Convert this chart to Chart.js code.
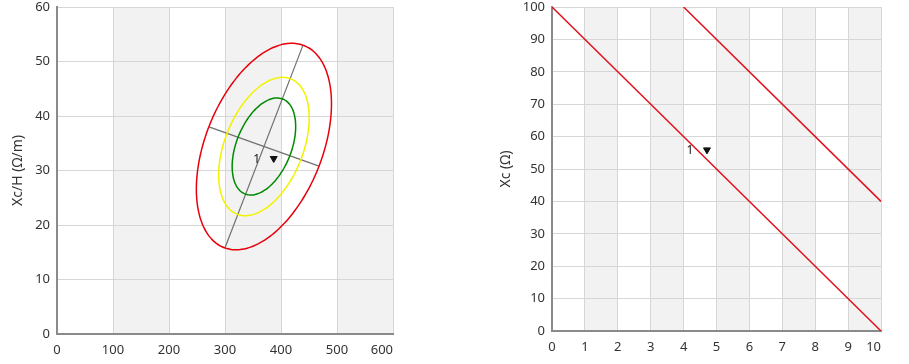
<!DOCTYPE html>
<html>
<head>
<meta charset="utf-8">
<script src="https://cdn.jsdelivr.net/npm/chart.js@4"></script>
<style>
  body { margin:0; background:#fff; width:909px; height:364px; overflow:hidden; position:relative; }
  .box { position:absolute; top:0; height:364px; }
</style>
</head>
<body>
<div class="box" style="left:0;width:420px"><canvas id="chartL"></canvas></div>
<div class="box" style="left:490px;width:419px"><canvas id="chartR"></canvas></div>
<script>
// left chart: Xc/H ellipses
var ellipseCenter = [369.5, 34.4];
var majorEnds = [[299.5, 15.7], [439.3, 53.0]];
var minorEnds = [[271.4, 38.0], [467.9, 30.8]];
var ellipseScales = [1, 0.67, 0.47];
var ellipseColors = ['#e8000b', '#f2f200', '#008a00'];
var pointL = [387, 32.2];
var bandsL = [[100, 200], [300, 400], [500, 600]];

// right chart: Xc lines
var line1 = [[0, 100], [10, 0]];
var line2 = [[4, 100], [10, 40]];
var pointR = [4.71, 55.9];
var bandsR = [[1, 2], [3, 4], [5, 6], [7, 8], [9, 10]];
var markLabel = '1';

const FONT = "'Noto Sans', sans-serif";

function ellipsePts(k){
  var ux = majorEnds[1][0] - ellipseCenter[0], uy = majorEnds[1][1] - ellipseCenter[1];
  var vx = minorEnds[1][0] - ellipseCenter[0], vy = minorEnds[1][1] - ellipseCenter[1];
  var pts = [];
  for (var i = 0; i <= 120; i++) {
    var t = i / 120 * Math.PI * 2;
    pts.push({x: ellipseCenter[0] + k*(Math.cos(t)*ux + Math.sin(t)*vx),
              y: ellipseCenter[1] + k*(Math.cos(t)*uy + Math.sin(t)*vy)});
  }
  return pts;
}
const toXY = arr => arr.map(p => ({x: p[0], y: p[1]}));

const bandPlugin = {
  id: 'bands',
  beforeDraw(chart, args, opts) {
    const {ctx, chartArea, scales} = chart;
    ctx.save();
    ctx.fillStyle = '#f2f2f2';
    opts.ranges.forEach(r => {
      const x1 = scales.x.getPixelForValue(r[0]);
      const x2 = scales.x.getPixelForValue(r[1]);
      ctx.fillRect(x1, chartArea.top, x2 - x1, chartArea.bottom - chartArea.top);
    });
    ctx.restore();
  }
};

const labelPlugin = {
  id: 'marklabel',
  afterDatasetsDraw(chart, args, opts) {
    const {ctx, scales} = chart;
    const x = scales.x.getPixelForValue(opts.at[0]);
    const y = scales.y.getPixelForValue(opts.at[1]);
    ctx.save();
    ctx.fillStyle = '#111';
    ctx.font = "12px " + FONT;
    ctx.textAlign = 'center';
    ctx.textBaseline = 'middle';
    ctx.fillText(markLabel, x - 17, y + 1);
    // last x tick label sits right-aligned at the axis end
    const sx = scales.x;
    ctx.fillStyle = '#333';
    ctx.font = "13px " + FONT;
    ctx.textAlign = 'right';
    ctx.textBaseline = 'top';
    ctx.fillText(String(sx.max), sx.right, sx.top + sx.options.ticks.padding + 2);
    ctx.restore();
  }
};

function marker(pt){
  return {
    data: [{x: pt[0], y: pt[1]}],
    showLine: false,
    pointStyle: 'triangle',
    rotation: 180,
    pointRadius: 4,
    backgroundColor: '#111',
    borderColor: '#111',
    borderWidth: 1
  };
}

function axes(xmin, xmax, xstep, ymin, ymax, ystep, title, yw, xh, titlePad, xpad){
  const grid = {color: '#d6d6d6', drawTicks: false};
  const border = {color: '#8a8a8a', width: 2};
  const tickFont = {family: FONT, size: 13};
  return {
    x: {
      type: 'linear', min: xmin, max: xmax,
      grid: grid, border: border,
      ticks: {stepSize: xstep, color: '#333', font: tickFont, padding: xpad, maxRotation: 0,
              callback: v => v === xmax ? '' : v},
      afterFit(s){ s.height = xh; }
    },
    y: {
      type: 'linear', min: ymin, max: ymax,
      grid: grid, border: border,
      ticks: {stepSize: ystep, color: '#333', font: tickFont, padding: 7},
      title: {display: true, text: title, color: '#333', font: {family: FONT, size: 14}, padding: {top: titlePad, bottom: 0}},
      afterFit(s){ s.width = yw; s.paddingTop = 7; }
    }
  };
}

const common = {
  responsive: true,
  maintainAspectRatio: false,
  animation: false,
  plugins: { legend: {display: false}, tooltip: {enabled: false} }
};

var dsL = ellipseScales.map((k, i) => ({
  data: ellipsePts(k), showLine: true, pointRadius: 0,
  borderColor: ellipseColors[i], borderWidth: 1.5, tension: 0.2
}));
dsL.push({data: toXY(majorEnds), showLine: true, pointRadius: 0, borderColor: '#707070', borderWidth: 1.2});
dsL.push({data: toXY(minorEnds), showLine: true, pointRadius: 0, borderColor: '#707070', borderWidth: 1.2});
dsL.push(marker(pointL));

new Chart(document.getElementById('chartL'), {
  type: 'scatter',
  data: {datasets: dsL},
  options: Object.assign({}, common, {
    layout: {padding: {left: 0, top: 0, right: 27, bottom: 0}},
    scales: axes(0, 600, 100, 0, 60, 10, 'Xc/H (Ω/m)', 57, 30, 10, 8),
    plugins: Object.assign({}, common.plugins, {bands: {ranges: bandsL}, marklabel: {at: pointL}})
  }),
  plugins: [bandPlugin, labelPlugin]
});

new Chart(document.getElementById('chartR'), {
  type: 'scatter',
  data: {datasets: [
    {data: toXY(line1), showLine: true, pointRadius: 0, borderColor: '#e0101e', borderWidth: 1.5},
    {data: toXY(line2), showLine: true, pointRadius: 0, borderColor: '#e0101e', borderWidth: 1.5},
    marker(pointR)
  ]},
  options: Object.assign({}, common, {
    layout: {padding: {left: 0, top: 0, right: 28, bottom: 0}},
    scales: axes(0, 10, 1, 0, 100, 10, 'Xc (Ω)', 62, 33, 8, 8),
    plugins: Object.assign({}, common.plugins, {bands: {ranges: bandsR}, marklabel: {at: pointR}})
  }),
  plugins: [bandPlugin, labelPlugin]
});
</script>
</body>
</html>
